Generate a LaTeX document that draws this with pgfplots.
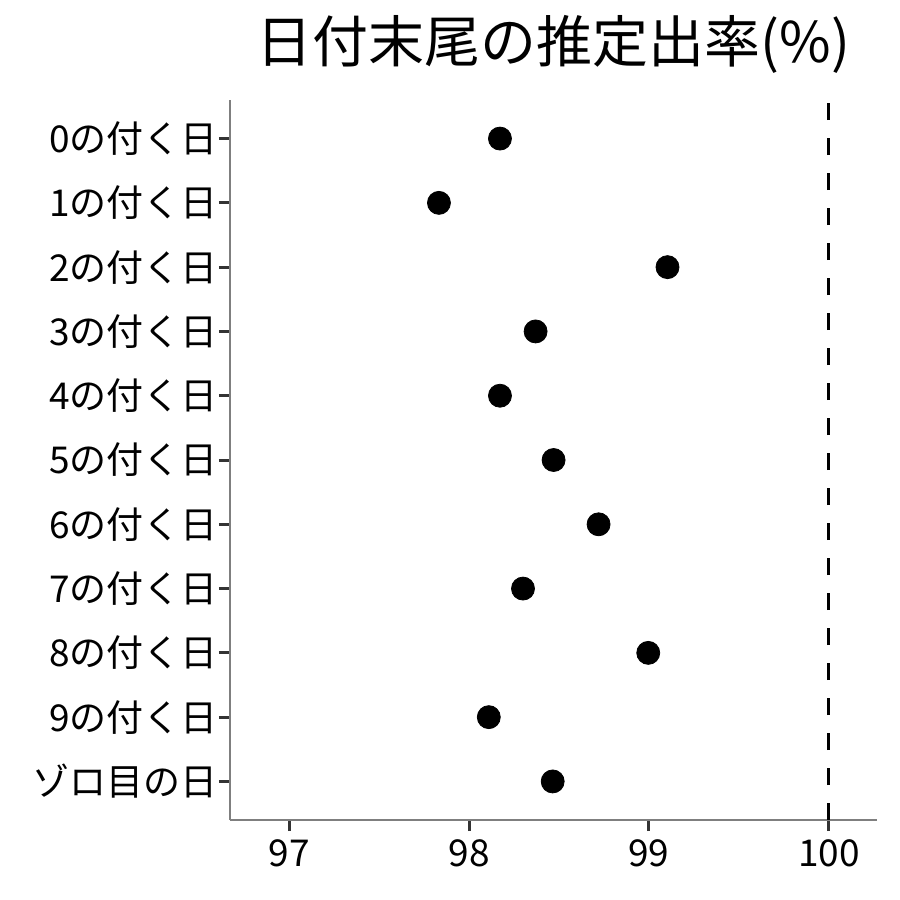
\documentclass[border=0pt]{standalone}
\usepackage{pgfplots}
\pgfplotsset{compat=1.18}
\usepackage{fontspec}
\setmainfont{Noto Sans CJK JP}
\definecolor{tickgray}{HTML}{333333}
\definecolor{axgray}{HTML}{7F7F7F}
\begin{document}
\begin{tikzpicture}
\begin{axis}[
    at={(0,0)}, anchor=south west,
    scale only axis,
    width=323.5pt, height=360pt,
    xmin=96.672, xmax=100.267,
    ymin=-0.6, ymax=10.6,
    y dir=reverse,
    axis lines*=left,
    axis line style={axgray, line width=1pt, -},
    xtick={97,98,99,100},
    ytick={0,...,10},
    yticklabels={0の付く日,1の付く日,2の付く日,3の付く日,4の付く日,5の付く日,6の付く日,7の付く日,8の付く日,9の付く日,ゾロ目の日},
    tick align=outside,
    major tick length=5.5pt,
    tick style={tickgray, line width=1.5pt},
    /pgf/number format/assume math mode=true,
    ticklabel style={font=\fontsize{18.5pt}{20pt}\selectfont, black},
    yticklabel style={xshift=3pt},
    xticklabel style={yshift=-1pt},
    title={日付末尾の推定出率(\%)},
    title style={at={(0.5,1)}, anchor=center, yshift=22pt, font=\fontsize{28pt}{32pt}\selectfont},
    clip=false,
]
\addplot[black, line width=1.5pt, dash pattern=on 8.5pt off 9pt] coordinates {
(100,10.6) (100,-0.6)
};
\addplot[only marks, mark=*, mark size=5.75pt, black] coordinates {
(98.172,0)
(97.833,1)
(99.103,2)
(98.370,3)
(98.172,4)
(98.470,5)
(98.720,6)
(98.300,7)
(98.996,8)
(98.110,9)
(98.465,10)
};
\end{axis}
\pgfresetboundingbox
\path (-115pt,-40pt) rectangle (335pt,410pt);
\end{tikzpicture}
\end{document}
